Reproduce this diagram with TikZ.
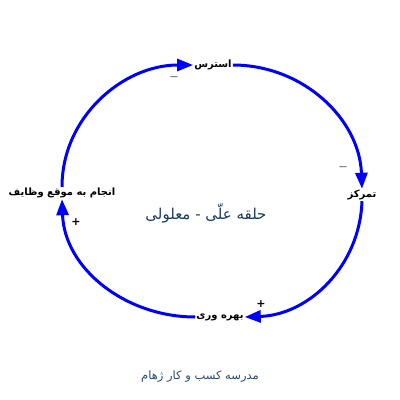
\documentclass[tikz,border=0pt]{standalone}
\usepackage{fontspec}
\usetikzlibrary{arrows.meta}
\TeXXeTstate=1
\newfontfamily\arabicfont[Script=Arabic]{DejaVu Sans}
\newfontfamily\signfont{DejaVu Sans}
\definecolor{titlecol}{HTML}{1B3A5C}
\definecolor{footcol}{HTML}{2C4A72}
\tikzset{
  varlabel/.style={font=\arabicfont\bfseries\fontsize{10}{12}\selectfont, inner sep=1pt, text=black},
  loopline/.style={draw=blue, line width=3pt, -{Triangle[length=16pt,width=12pt]}},
  polarity/.style={font=\signfont\bfseries\fontsize{11}{12}\selectfont, inner sep=0pt, text=black}
}
\begin{document}
\begin{tikzpicture}[x=1pt,y=-1pt]
\useasboundingbox (0,0) rectangle (400,400);
\node[varlabel] (stress) at (213,65) {\beginR استرس\endR};
\node[varlabel] (focus) at (362,195) {\beginR تمرکز\endR};
\node[varlabel] (prod) at (220,317) {\beginR بهره وری\endR};
\node[varlabel] (task) at (62,193) {\beginR انجام به موقع وظایف\endR};
\node[font=\arabicfont\fontsize{15}{18}\selectfont, text=titlecol] (title) at (206,213) {\beginR حلقه علّی - معلولی\endR};
\node[font=\arabicfont\fontsize{11.5}{14}\selectfont, text=footcol] (foot) at (200,377) {\beginR مدرسه کسب و کار ژهام\endR};
\draw[loopline] (task.north) to[out=90,in=180] (stress.west);
\draw[loopline] (stress.east) to[out=0,in=92] (focus.north);
\draw[loopline] (focus.south) to[out=268,in=2] (prod.east);
\draw[loopline] (prod.west) to[out=180,in=272] (task.south);
\node[polarity, font=\signfont\fontsize{8}{10}\selectfont] (m1) at (174,78) {—};
\node[polarity, font=\signfont\fontsize{8}{10}\selectfont] (m2) at (343,168) {—};
\node[polarity] (p1) at (76,222) {+};
\node[polarity] (p2) at (261,304) {+};
\end{tikzpicture}
\end{document}
